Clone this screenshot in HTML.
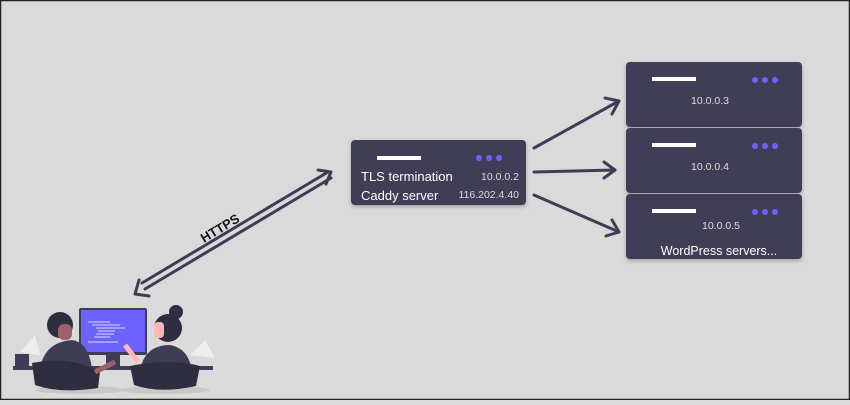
<!DOCTYPE html>
<html><head><style>
html,body{margin:0;padding:0;}
body{width:850px;height:400px;overflow:hidden;background:#dadada;}
svg text{font-family:"Liberation Sans",sans-serif;}
</style></head><body>
<svg width="850" height="400" viewBox="0 0 850 400" xmlns="http://www.w3.org/2000/svg">
<rect x="0.5" y="0.5" width="849" height="399" fill="#dadada" stroke="#222" stroke-width="1.5"/>
<defs><filter id="sh" x="-10%" y="-10%" width="130%" height="140%"><feDropShadow dx="0" dy="2" stdDeviation="2" flood-opacity="0.25"/></filter></defs>
<!-- center node -->
<rect x="351" y="140" width="175" height="65" rx="4" fill="#3f3d56" filter="url(#sh)"/>
<rect x="377" y="156" width="44" height="4" fill="#fff"/>
<circle cx="479" cy="158" r="3" fill="#6c63ff"/><circle cx="489" cy="158" r="3" fill="#6c63ff"/><circle cx="499" cy="158" r="3" fill="#6c63ff"/>
<text x="361" y="181" font-size="13" fill="#fff">TLS termination</text>
<text x="519" y="180" font-size="10.5" fill="#ddd" text-anchor="end">10.0.0.2</text>
<text x="361" y="200" font-size="13" fill="#fff">Caddy server</text>
<text x="519" y="198" font-size="10.5" fill="#ddd" text-anchor="end">116.202.4.40</text>
<!-- right nodes -->
<g filter="url(#sh)">
<rect x="626" y="62" width="176" height="65" rx="4" fill="#3f3d56"/>
<rect x="626" y="128" width="176" height="65" rx="4" fill="#3f3d56"/>
<rect x="626" y="194" width="176" height="65" rx="4" fill="#3f3d56"/>
</g>
<g fill="#fff"><rect x="652" y="77" width="44" height="4"/><rect x="652" y="143" width="44" height="4"/><rect x="652" y="209" width="44" height="4"/></g>
<g fill="#6c63ff">
<circle cx="755" cy="80" r="3"/><circle cx="765" cy="80" r="3"/><circle cx="775" cy="80" r="3"/>
<circle cx="755" cy="146" r="3"/><circle cx="765" cy="146" r="3"/><circle cx="775" cy="146" r="3"/>
<circle cx="755" cy="212" r="3"/><circle cx="765" cy="212" r="3"/><circle cx="775" cy="212" r="3"/>
</g>
<g font-size="10.5" fill="#ddd" text-anchor="middle">
<text x="710" y="104">10.0.0.3</text><text x="710" y="170">10.0.0.4</text><text x="721" y="229">10.0.0.5</text>
</g>
<text x="719" y="255" font-size="12.5" fill="#fff" text-anchor="middle">WordPress servers...</text>
<!-- arrows -->
<g stroke="#3f3d56" stroke-width="3" fill="none" stroke-linecap="round" stroke-linejoin="round">
<line x1="534" y1="148" x2="619" y2="101"/><polyline points="605,98 619,101 612,114"/>
<line x1="534" y1="172" x2="615" y2="170"/><polyline points="604,162 615,170 604,178"/>
<line x1="534" y1="195" x2="619" y2="232"/><polyline points="612,220 619,232 606,236"/>
</g>
<!-- HTTPS double -->
<g stroke="#3f3d56" stroke-width="3" fill="none" stroke-linecap="round" stroke-linejoin="round">
<line x1="328" y1="172" x2="142" y2="283"/>
<line x1="331" y1="178" x2="145" y2="289"/>
<polyline points="318,170 331,172 326,184"/>
<polyline points="139,280 135,294 149,296"/>
</g>
<text x="0" y="0" font-size="13" font-weight="bold" fill="#111" transform="translate(204,243) rotate(-31)">HTTPS</text>
<!-- illustration -->
<g>
<path d="M20,352 L35,335 L40,355 Z M190,355 L205,340 L215,358 Z" fill="#eee"/>
<ellipse cx="80" cy="390" rx="45" ry="4" fill="#c8c8c8"/>
<ellipse cx="165" cy="390" rx="45" ry="4" fill="#c8c8c8"/>
<rect x="13" y="366" width="200" height="4" fill="#3f3d56"/>
<rect x="15" y="354" width="14" height="12" fill="#3f3d56"/>
<rect x="79" y="308" width="68" height="47" rx="2" fill="#3f3d56"/>
<rect x="81" y="310" width="64" height="42" fill="#6c63ff"/>
<g stroke="#fff" stroke-width="0.8"><line x1="88" y1="322" x2="110" y2="322"/><line x1="92" y1="325" x2="120" y2="325"/><line x1="96" y1="328" x2="125" y2="328"/><line x1="98" y1="331" x2="115" y2="331"/><line x1="96" y1="334" x2="114" y2="334"/><line x1="94" y1="337" x2="110" y2="337"/><line x1="88" y1="342" x2="118" y2="342"/></g>
<rect x="106" y="355" width="14" height="11" fill="#3f3d56"/>
<circle cx="60" cy="325" r="13" fill="#2f2e41"/>
<rect x="58" y="324" width="14" height="16" rx="6" fill="#9e616a"/>
<path d="M40,368 Q45,342 72,340 Q88,342 92,368 Z" fill="#3f3d56"/>
<path d="M32,363 Q70,355 100,372 L98,388 Q60,394 35,385 Z" fill="#2f2e41"/>
<path d="M95,372 L115,362" stroke="#9e616a" stroke-width="5"/>
<circle cx="168" cy="328" r="14" fill="#2f2e41"/>
<circle cx="176" cy="312" r="7" fill="#2f2e41"/>
<rect x="154" y="322" width="10" height="16" rx="4" fill="#ffb6b6"/>
<path d="M140,370 Q145,345 170,345 Q188,348 192,370 Z" fill="#3f3d56"/>
<path d="M130,366 Q170,358 200,366 L196,386 Q160,394 134,385 Z" fill="#2f2e41"/>
<path d="M125,345 L138,362" stroke="#ffb6b6" stroke-width="5"/>
</g>
</svg>
</body></html>
